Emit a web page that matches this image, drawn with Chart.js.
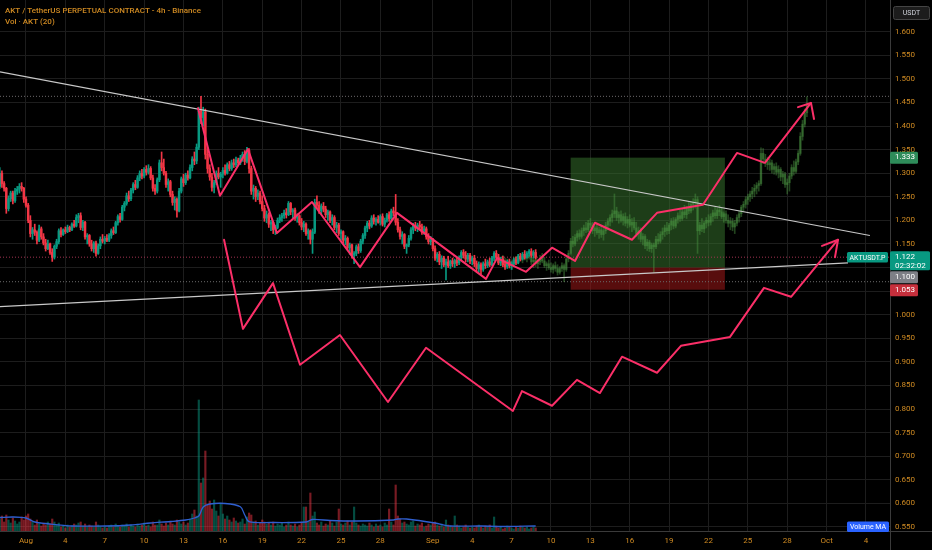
<!DOCTYPE html>
<html><head><meta charset="utf-8">
<script src="https://cdn.jsdelivr.net/npm/chart.js@4.4.1/dist/chart.umd.min.js"></script>
<style>html,body{margin:0;padding:0;background:#000;overflow:hidden}canvas{display:block}</style>
</head><body>
<canvas id="c" width="932" height="550"></canvas>
<script>
// ---------- data ----------
const chartTitle = 'AKT / TetherUS PERPETUAL CONTRACT - 4h - Binance';
const volTitle = 'Vol \u00b7 AKT (20)';
const symbolName = 'AKTUSDT.P';
const currency = 'USDT';
const countdown = '02:32:02';

// x axis: days counted from Aug 1 (day 0)
const tickDays = [0,3,6,9,12,15,18,21,24,27,31,34,37,40,43,46,49,52,55,58,61,64];
const tickLabels = ['Aug','4','7','10','13','16','19','22','25','28','Sep','4','7','10','13','16','19','22','25','28','Oct','4'];
const priceTicks = [0.55,0.60,0.65,0.70,0.75,0.80,0.85,0.90,0.95,1.00,1.05,1.10,1.15,1.20,1.25,1.30,1.35,1.40,1.45,1.50,1.55,1.60];

const candleStartDay = -2;   // Jul 30, 00:00
const candleHours = 4;

// 4h candles [open, high, low, close]
const candles = [
[1.272,1.312,1.268,1.300],[1.300,1.305,1.270,1.278],[1.278,1.282,1.262,1.268],[1.268,1.270,1.215,1.225],[1.225,1.252,1.220,1.246],[1.246,1.262,1.240,1.258],
[1.258,1.262,1.235,1.242],[1.242,1.268,1.238,1.262],[1.262,1.272,1.255,1.266],[1.266,1.278,1.258,1.272],[1.272,1.280,1.262,1.268],[1.268,1.270,1.238,1.245],
[1.245,1.250,1.228,1.232],[1.232,1.236,1.195,1.200],[1.200,1.210,1.165,1.172],[1.172,1.185,1.160,1.180],[1.180,1.192,1.168,1.175],[1.175,1.178,1.150,1.158],
[1.158,1.190,1.155,1.182],[1.182,1.186,1.160,1.165],[1.165,1.172,1.148,1.152],[1.152,1.160,1.135,1.140],[1.140,1.158,1.138,1.150],[1.150,1.152,1.128,1.132],
[1.132,1.140,1.113,1.122],[1.122,1.148,1.118,1.145],[1.145,1.160,1.140,1.155],[1.155,1.182,1.150,1.178],[1.178,1.185,1.165,1.170],[1.170,1.182,1.168,1.180],
[1.180,1.186,1.172,1.176],[1.176,1.190,1.174,1.185],[1.185,1.188,1.176,1.180],[1.180,1.195,1.178,1.192],[1.192,1.200,1.185,1.188],[1.188,1.212,1.186,1.206],
[1.206,1.215,1.195,1.210],[1.210,1.216,1.180,1.185],[1.185,1.200,1.178,1.196],[1.196,1.198,1.160,1.165],[1.165,1.172,1.150,1.168],[1.168,1.170,1.145,1.150],
[1.150,1.158,1.135,1.140],[1.140,1.155,1.132,1.152],[1.152,1.156,1.124,1.130],[1.130,1.150,1.128,1.146],[1.146,1.165,1.140,1.160],[1.160,1.170,1.152,1.156],
[1.156,1.166,1.150,1.162],[1.162,1.170,1.155,1.158],[1.158,1.172,1.155,1.168],[1.168,1.182,1.162,1.178],[1.178,1.186,1.170,1.174],[1.174,1.198,1.172,1.195],
[1.195,1.212,1.190,1.208],[1.208,1.215,1.196,1.202],[1.202,1.232,1.200,1.228],[1.228,1.240,1.220,1.236],[1.236,1.258,1.232,1.252],[1.252,1.262,1.240,1.246],
[1.246,1.268,1.242,1.264],[1.264,1.280,1.258,1.276],[1.276,1.285,1.265,1.270],[1.270,1.295,1.268,1.290],[1.290,1.305,1.284,1.300],[1.300,1.308,1.288,1.294],
[1.294,1.312,1.290,1.308],[1.308,1.316,1.296,1.302],[1.302,1.318,1.298,1.310],[1.310,1.314,1.286,1.290],[1.290,1.296,1.262,1.268],[1.268,1.276,1.255,1.262],
[1.262,1.290,1.258,1.286],[1.286,1.328,1.282,1.322],[1.322,1.345,1.305,1.312],[1.312,1.330,1.296,1.300],[1.300,1.304,1.270,1.276],[1.276,1.288,1.262,1.282],
[1.282,1.285,1.250,1.255],[1.255,1.262,1.232,1.238],[1.238,1.250,1.222,1.245],[1.245,1.248,1.207,1.220],[1.220,1.268,1.218,1.262],[1.262,1.292,1.258,1.288],
[1.288,1.298,1.272,1.280],[1.280,1.300,1.276,1.296],[1.296,1.305,1.285,1.290],[1.290,1.318,1.288,1.312],[1.312,1.335,1.305,1.330],[1.330,1.345,1.318,1.326],
[1.326,1.362,1.320,1.355],[1.355,1.440,1.350,1.432],[1.432,1.463,1.405,1.418],[1.418,1.440,1.400,1.430],[1.430,1.436,1.330,1.340],[1.340,1.352,1.300,1.310],
[1.310,1.318,1.285,1.292],[1.292,1.300,1.262,1.270],[1.270,1.285,1.258,1.280],[1.280,1.305,1.276,1.300],[1.300,1.312,1.288,1.292],[1.292,1.302,1.270,1.298],
[1.298,1.312,1.290,1.306],[1.306,1.318,1.296,1.300],[1.300,1.322,1.298,1.318],[1.318,1.325,1.305,1.310],[1.310,1.328,1.306,1.322],[1.322,1.330,1.312,1.318],
[1.318,1.334,1.314,1.328],[1.328,1.332,1.318,1.322],[1.322,1.338,1.318,1.332],[1.332,1.345,1.325,1.340],[1.340,1.348,1.318,1.325],[1.325,1.355,1.322,1.348],
[1.348,1.352,1.300,1.310],[1.310,1.315,1.255,1.262],[1.262,1.275,1.245,1.268],[1.268,1.272,1.240,1.250],[1.250,1.265,1.244,1.258],[1.258,1.262,1.235,1.240],
[1.240,1.252,1.220,1.225],[1.225,1.232,1.198,1.205],[1.205,1.220,1.195,1.212],[1.212,1.216,1.185,1.192],[1.192,1.200,1.178,1.196],[1.196,1.198,1.172,1.180],
[1.180,1.190,1.170,1.185],[1.185,1.205,1.182,1.200],[1.200,1.212,1.195,1.206],[1.206,1.215,1.198,1.210],[1.210,1.222,1.204,1.216],[1.216,1.225,1.205,1.212],
[1.212,1.240,1.210,1.236],[1.236,1.238,1.212,1.218],[1.218,1.225,1.205,1.222],[1.222,1.226,1.200,1.205],[1.205,1.214,1.196,1.210],[1.210,1.212,1.190,1.195],
[1.195,1.204,1.180,1.186],[1.186,1.198,1.176,1.192],[1.192,1.195,1.168,1.172],[1.172,1.182,1.160,1.178],[1.178,1.180,1.150,1.160],[1.160,1.182,1.130,1.175],
[1.175,1.245,1.172,1.238],[1.238,1.252,1.225,1.232],[1.232,1.240,1.215,1.220],[1.220,1.235,1.214,1.230],[1.230,1.238,1.218,1.224],[1.224,1.230,1.206,1.212],
[1.212,1.222,1.200,1.218],[1.218,1.220,1.195,1.200],[1.200,1.212,1.190,1.206],[1.206,1.210,1.180,1.185],[1.185,1.196,1.174,1.190],[1.190,1.194,1.168,1.172],
[1.172,1.180,1.158,1.176],[1.176,1.178,1.152,1.158],[1.158,1.168,1.148,1.162],[1.162,1.165,1.138,1.142],[1.142,1.152,1.128,1.148],[1.148,1.150,1.120,1.126],
[1.126,1.134,1.108,1.130],[1.130,1.148,1.125,1.144],[1.144,1.150,1.130,1.136],[1.136,1.160,1.132,1.156],[1.156,1.172,1.150,1.168],[1.168,1.188,1.162,1.184],
[1.184,1.198,1.176,1.194],[1.194,1.200,1.182,1.188],[1.188,1.210,1.185,1.205],[1.205,1.212,1.192,1.198],[1.198,1.206,1.190,1.202],[1.202,1.210,1.194,1.196],
[1.196,1.212,1.190,1.208],[1.208,1.214,1.188,1.192],[1.192,1.205,1.186,1.200],[1.200,1.215,1.196,1.212],[1.212,1.218,1.198,1.204],[1.204,1.224,1.200,1.220],
[1.220,1.228,1.210,1.216],[1.216,1.255,1.190,1.196],[1.196,1.204,1.175,1.180],[1.180,1.186,1.160,1.166],[1.166,1.176,1.150,1.170],[1.170,1.172,1.140,1.145],
[1.145,1.150,1.130,1.148],[1.148,1.168,1.144,1.162],[1.162,1.185,1.158,1.180],[1.180,1.194,1.172,1.188],[1.188,1.196,1.178,1.184],[1.184,1.194,1.176,1.190],
[1.190,1.198,1.180,1.186],[1.186,1.192,1.170,1.175],[1.175,1.188,1.170,1.182],[1.182,1.186,1.160,1.165],[1.165,1.172,1.150,1.155],[1.155,1.166,1.148,1.160],
[1.160,1.162,1.135,1.140],[1.140,1.146,1.115,1.120],[1.120,1.132,1.112,1.128],[1.128,1.134,1.106,1.112],[1.112,1.125,1.098,1.120],[1.120,1.124,1.102,1.106],
[1.106,1.118,1.074,1.112],[1.112,1.124,1.100,1.104],[1.104,1.116,1.098,1.114],[1.114,1.120,1.102,1.108],[1.108,1.118,1.100,1.115],[1.115,1.122,1.104,1.110],
[1.110,1.125,1.106,1.122],[1.122,1.136,1.116,1.132],[1.132,1.138,1.120,1.126],[1.126,1.134,1.112,1.118],[1.118,1.130,1.112,1.126],[1.126,1.130,1.108,1.114],
[1.114,1.124,1.106,1.120],[1.120,1.126,1.102,1.108],[1.108,1.114,1.092,1.098],[1.098,1.112,1.090,1.106],[1.106,1.110,1.086,1.096],[1.096,1.112,1.092,1.108],
[1.108,1.118,1.098,1.104],[1.104,1.116,1.100,1.112],[1.112,1.120,1.102,1.106],[1.106,1.124,1.104,1.120],[1.120,1.134,1.114,1.130],[1.130,1.136,1.118,1.122],
[1.122,1.128,1.106,1.110],[1.110,1.122,1.104,1.118],[1.118,1.124,1.102,1.106],[1.106,1.114,1.096,1.102],[1.102,1.116,1.098,1.112],[1.112,1.118,1.100,1.104],
[1.104,1.112,1.096,1.108],[1.108,1.120,1.102,1.116],[1.116,1.122,1.106,1.110],[1.110,1.128,1.108,1.124],[1.124,1.130,1.114,1.118],[1.118,1.132,1.116,1.128],
[1.128,1.136,1.118,1.122],[1.122,1.134,1.120,1.130],[1.130,1.138,1.124,1.134],[1.134,1.140,1.122,1.126],[1.126,1.136,1.120,1.132],[1.132,1.138,1.118,1.122]
];

// faded projected bars (bar pattern), starting at candle index 228
const ghostStartIndex = 228;
const ghostCandles = [
[1.120,1.128,1.108,1.112],[1.112,1.122,1.104,1.118],[1.118,1.126,1.110,1.114],[1.114,1.120,1.100,1.106],[1.106,1.118,1.102,1.112],[1.112,1.116,1.098,1.104],
[1.104,1.114,1.096,1.110],[1.110,1.122,1.106,1.118],[1.118,1.124,1.108,1.112],[1.112,1.126,1.108,1.122],[1.122,1.130,1.114,1.118],[1.118,1.128,1.110,1.124],
[1.124,1.132,1.116,1.120],[1.120,1.130,1.112,1.126],[1.126,1.134,1.118,1.122],[1.122,1.128,1.106,1.112],[1.112,1.120,1.100,1.116],[1.116,1.122,1.102,1.108],
[1.108,1.118,1.098,1.112],[1.112,1.126,1.106,1.120],[1.120,1.130,1.110,1.114],[1.114,1.122,1.100,1.104],[1.104,1.112,1.094,1.108],[1.108,1.116,1.096,1.100],
[1.100,1.110,1.090,1.096],[1.096,1.108,1.088,1.104],[1.104,1.112,1.092,1.098],[1.098,1.106,1.084,1.090],[1.090,1.102,1.086,1.098],[1.098,1.110,1.092,1.104],
[1.104,1.108,1.070,1.096],[1.096,1.124,1.092,1.118],[1.118,1.136,1.112,1.130],[1.130,1.162,1.126,1.156],[1.156,1.166,1.144,1.150],[1.150,1.170,1.146,1.164],
[1.164,1.178,1.156,1.172],[1.172,1.180,1.160,1.166],[1.166,1.184,1.162,1.178],[1.178,1.190,1.168,1.184],[1.184,1.196,1.174,1.180],[1.180,1.200,1.176,1.194],
[1.194,1.204,1.184,1.190],[1.190,1.196,1.172,1.178],[1.178,1.188,1.166,1.184],[1.184,1.192,1.170,1.174],[1.174,1.186,1.162,1.180],[1.180,1.188,1.164,1.170],
[1.170,1.184,1.158,1.178],[1.178,1.196,1.172,1.190],[1.190,1.204,1.180,1.198],[1.198,1.212,1.188,1.206],[1.206,1.222,1.196,1.214],[1.214,1.256,1.206,1.220],
[1.220,1.228,1.200,1.206],[1.206,1.218,1.194,1.212],[1.212,1.220,1.196,1.200],[1.200,1.214,1.190,1.208],[1.208,1.216,1.188,1.194],[1.194,1.208,1.184,1.202],
[1.202,1.212,1.186,1.190],[1.190,1.204,1.176,1.196],[1.196,1.206,1.180,1.184],[1.184,1.196,1.166,1.172],[1.172,1.186,1.160,1.178],[1.178,1.184,1.154,1.160],
[1.160,1.172,1.148,1.166],[1.166,1.170,1.140,1.146],[1.146,1.160,1.136,1.154],[1.154,1.158,1.134,1.140],[1.140,1.152,1.132,1.148],[1.148,1.152,1.090,1.144],
[1.144,1.166,1.140,1.160],[1.160,1.172,1.150,1.156],[1.156,1.176,1.152,1.170],[1.170,1.184,1.160,1.176],[1.176,1.190,1.166,1.184],[1.184,1.196,1.170,1.178],
[1.178,1.194,1.172,1.190],[1.190,1.204,1.180,1.198],[1.198,1.206,1.182,1.188],[1.188,1.206,1.184,1.202],[1.202,1.216,1.194,1.210],[1.210,1.222,1.198,1.204],
[1.204,1.224,1.200,1.218],[1.218,1.232,1.206,1.212],[1.212,1.230,1.204,1.226],[1.226,1.238,1.214,1.220],[1.220,1.240,1.216,1.234],[1.234,1.246,1.222,1.238],
[1.238,1.256,1.226,1.244],[1.244,1.250,1.130,1.178],[1.178,1.196,1.170,1.190],[1.190,1.204,1.176,1.182],[1.182,1.198,1.174,1.194],[1.194,1.206,1.184,1.200],
[1.200,1.212,1.188,1.196],[1.196,1.214,1.190,1.208],[1.208,1.222,1.198,1.216],[1.216,1.228,1.204,1.210],[1.210,1.226,1.204,1.222],[1.222,1.232,1.210,1.218],
[1.218,1.226,1.204,1.208],[1.208,1.218,1.196,1.214],[1.214,1.220,1.194,1.200],[1.200,1.212,1.186,1.194],[1.194,1.206,1.180,1.198],[1.198,1.204,1.178,1.186],
[1.186,1.200,1.172,1.194],[1.194,1.212,1.188,1.206],[1.206,1.220,1.196,1.214],[1.214,1.232,1.208,1.228],[1.228,1.240,1.218,1.234],[1.234,1.250,1.226,1.244],
[1.244,1.256,1.234,1.250],[1.250,1.262,1.240,1.256],[1.256,1.270,1.246,1.262],[1.262,1.276,1.250,1.268],[1.268,1.280,1.256,1.274],[1.274,1.284,1.262,1.278],
[1.278,1.354,1.274,1.342],[1.342,1.352,1.320,1.330],[1.330,1.340,1.314,1.326],[1.326,1.334,1.308,1.318],[1.318,1.330,1.306,1.322],[1.322,1.328,1.300,1.308],
[1.308,1.320,1.298,1.314],[1.314,1.322,1.296,1.302],[1.302,1.316,1.290,1.308],[1.308,1.312,1.284,1.292],[1.292,1.304,1.278,1.298],[1.298,1.302,1.270,1.276],
[1.276,1.288,1.256,1.280],[1.280,1.300,1.262,1.294],[1.294,1.318,1.288,1.312],[1.312,1.326,1.296,1.304],[1.304,1.330,1.300,1.324],[1.324,1.348,1.318,1.342],
[1.342,1.386,1.338,1.378],[1.378,1.412,1.370,1.404],[1.404,1.436,1.398,1.428],[1.428,1.462,1.420,1.444]
];

// volume per candle, thousands of AKT
const volumes = [
120,150,90,160,110,80,130,100,70,90,140,110,
150,170,120,90,60,110,70,50,80,60,90,70,
120,90,60,80,40,50,30,60,40,50,70,60,
80,90,50,70,40,60,50,40,90,60,40,30,
40,30,50,60,40,70,50,40,60,50,70,40,
60,50,40,70,50,60,80,50,60,40,90,60,
60,110,70,50,80,60,90,70,60,110,90,70,
90,60,80,120,170,210,150,1310,480,530,800,260,
300,220,310,200,150,280,170,120,150,110,90,130,
100,80,90,120,70,140,180,160,90,100,60,80,
110,90,70,80,60,90,50,70,60,80,40,60,
90,60,50,70,40,60,80,240,240,100,380,150,
190,80,60,90,50,70,60,100,80,50,90,220,
70,60,80,100,60,90,240,80,60,50,70,60,
50,80,60,40,70,50,60,40,80,60,220,90,
60,460,150,120,80,90,70,60,90,100,50,70,
60,80,40,50,70,60,80,90,60,50,70,40,
110,60,50,40,150,60,50,30,40,60,40,30,
40,30,50,60,40,30,50,40,60,30,140,50,
30,40,20,30,50,40,30,20,40,30,50,40,
30,40,20,30,40,30
];
// Volume MA (20): candle index -> value
const volMaIndex = [0,6,12,16,21,33,49,60,69,78,85,89,91,93,96,103,110,112,114,124,140,143,151,163,180,182,186,199,206,220,229,245];
const volMaValue = [135,140,130,90,75,50,50,60,80,95,110,130,150,240,270,275,243,160,93,85,90,115,105,100,110,120,120,80,50,50,45,50];

// drawings (day, price)
const upperTrendDays = [-1.98, 64.30];
const upperTrendPrices = [1.515, 1.168];
const lowerTrendDays = [-1.98, 62.63];
const lowerTrendPrices = [1.017, 1.110];

const zigUpperDays = [13.10,14.78,16.91,19.12,21.79,25.45,28.27,35.05,35.89,38.10,40.08,41.83,43.35,46.17,48.08,51.58,54.17,56.30,59.81];
const zigUpperPrices = [1.438,1.252,1.351,1.173,1.239,1.101,1.216,1.076,1.120,1.091,1.142,1.114,1.195,1.159,1.216,1.233,1.343,1.322,1.449];
const arrowUpperDays = [58.82,59.81,60.04];
const arrowUpperPrices = [1.440,1.449,1.415];

const zigLowerDays = [15.09,16.53,18.82,20.88,23.92,27.58,30.48,37.10,37.79,40.08,41.98,43.73,45.41,48.08,49.90,53.64,56.23,58.29,61.87];
const zigLowerPrices = [1.159,0.970,1.067,0.894,0.957,0.815,0.930,0.796,0.838,0.807,0.862,0.834,0.911,0.877,0.934,0.953,1.057,1.038,1.159];
const arrowLowerDays = [60.65,61.87,61.64];
const arrowLowerPrices = [1.146,1.159,1.122];

// long position tool
const posStartDay = 41.5;
const posEndDay = 53.25;
const entryPrice = 1.100;
const targetPrice = 1.333;
const stopPrice = 1.053;

const lastPrice = 1.122;
const rangeHigh = 1.463;
const rangeLow = 1.070;

// ---------- styles ----------
const ORANGE = '#cf8a22';
const GRID = '#1d1d1d';
const UP = '#089981';
const DOWN = '#f23645';
const GHOST = 'rgba(76,150,66,0.45)';
const PINK = '#fb2f68';
const TREND = '#c9c9c9';
const FONT = 'Roboto';
const xMin = -1.98, xMax = 65.83;
const yMin = 0.5415, yMax = 1.6672;
const volAxisMax = 5310;

const dayOf = i => candleStartDay + i * candleHours / 24;
const pts = (ds, ps) => ds.map((d, k) => ({x: d, y: ps[k]}));

const candleCols = candles.map(c => c[3] >= c[0] ? UP : DOWN);
const volCols = candles.map(c => c[3] >= c[0] ? 'rgba(8,153,129,0.5)' : 'rgba(242,54,69,0.5)');

const datasets = [
  // horizontal dotted levels
  {type:'line', data: pts([xMin,xMax],[rangeHigh,rangeHigh]), borderColor:'#6e6a6c', borderWidth:1, borderDash:[1,2], pointRadius:0, order:20},
  {type:'line', data: pts([xMin,xMax],[rangeLow,rangeLow]), borderColor:'#6b6b6b', borderWidth:1, borderDash:[1,2], pointRadius:0, order:20},
  {type:'line', data: pts([xMin,xMax],[lastPrice,lastPrice]), borderColor:'#a23352', borderWidth:1, borderDash:[1,2], pointRadius:0, order:20},
  // volume
  {type:'bar', yAxisID:'yv', data: volumes.map((v,i)=>({x:dayOf(i), y:v})), backgroundColor: volCols, barThickness:1.5, grouped:false, borderWidth:0, order:15},
  {type:'line', yAxisID:'yv', data: volMaIndex.map((i,k)=>({x:dayOf(i), y:volMaValue[k]})), borderColor:'#2f5fd0', borderWidth:1.3, pointRadius:0, tension:0.3, order:14},
  // ghost bars
  {type:'bar', data: ghostCandles.map((c,k)=>({x:dayOf(ghostStartIndex+k), y:[c[2],c[1]]})), backgroundColor: GHOST, barThickness:1, grouped:false, borderWidth:0, order:12},
  {type:'bar', data: ghostCandles.map((c,k)=>({x:dayOf(ghostStartIndex+k), y:[Math.min(c[0],c[3]),Math.max(c[0],c[3])]})), backgroundColor: GHOST, barThickness:1.8, minBarLength:1, grouped:false, borderWidth:0, order:11},
  // candles
  {type:'bar', data: candles.map((c,i)=>({x:dayOf(i), y:[c[2],c[1]]})), backgroundColor: candleCols, barThickness:1, grouped:false, borderWidth:0, order:10},
  {type:'bar', data: candles.map((c,i)=>({x:dayOf(i), y:[Math.min(c[0],c[3]),Math.max(c[0],c[3])]})), backgroundColor: candleCols, barThickness:1.8, minBarLength:1, grouped:false, borderWidth:0, order:9},
  // trend lines
  {type:'line', data: pts(upperTrendDays, upperTrendPrices), borderColor:TREND, borderWidth:1.2, pointRadius:0, order:5},
  {type:'line', data: pts(lowerTrendDays, lowerTrendPrices), borderColor:TREND, borderWidth:1.2, pointRadius:0, order:5},
  // zigzag paths
  {type:'line', data: pts(zigUpperDays, zigUpperPrices), borderColor:PINK, borderWidth:2, pointRadius:0, tension:0, borderJoinStyle:'round', borderCapStyle:'round', order:2},
  {type:'line', data: pts(arrowUpperDays, arrowUpperPrices), borderColor:PINK, borderWidth:2, pointRadius:0, tension:0, borderJoinStyle:'round', borderCapStyle:'round', order:2},
  {type:'line', data: pts(zigLowerDays, zigLowerPrices), borderColor:PINK, borderWidth:2, pointRadius:0, tension:0, borderJoinStyle:'round', borderCapStyle:'round', order:2},
  {type:'line', data: pts(arrowLowerDays, arrowLowerPrices), borderColor:PINK, borderWidth:2, pointRadius:0, tension:0, borderJoinStyle:'round', borderCapStyle:'round', order:2}
];

function labelBox(ctx, x, y, w, h, fill, lines, color, size, align) {
  ctx.fillStyle = fill;
  ctx.beginPath();
  ctx.roundRect ? ctx.roundRect(x, y, w, h, 1.5) : ctx.rect(x, y, w, h);
  ctx.fill();
  ctx.fillStyle = color;
  ctx.font = (size || 8) + 'px ' + FONT;
  ctx.textBaseline = 'middle';
  ctx.textAlign = align || 'left';
  const tx = align === 'center' ? x + w / 2 : x + 5;
  lines.forEach((t, k) => ctx.fillText(t, tx, y + 5.8 + k * 8.6));
}

const overlay = {
  id: 'overlay',
  beforeDraw(chart) {
    const ctx = chart.ctx;
    ctx.save(); ctx.fillStyle = '#000'; ctx.fillRect(0, 0, chart.width, chart.height); ctx.restore();
  },
  beforeDatasetsDraw(chart) {
    const {ctx, chartArea: a, scales: {x, y}} = chart;
    ctx.save();
    ctx.beginPath(); ctx.rect(a.left, a.top, a.right - a.left, a.bottom - a.top); ctx.clip();
    const x0 = x.getPixelForValue(posStartDay), x1 = x.getPixelForValue(posEndDay);
    const yT = y.getPixelForValue(targetPrice), yE = y.getPixelForValue(entryPrice), yS = y.getPixelForValue(stopPrice);
    ctx.fillStyle = 'rgba(56,116,46,0.52)';
    ctx.fillRect(x0, yT, x1 - x0, yE - yT);
    ctx.fillStyle = 'rgba(160,24,24,0.55)';
    ctx.fillRect(x0, yE, x1 - x0, yS - yE);
    ctx.restore();
  },
  afterDraw(chart) {
    const {ctx, chartArea: a, scales: {y}} = chart;
    ctx.save();
    // axis borders
    ctx.strokeStyle = '#3a3a3a'; ctx.lineWidth = 1;
    ctx.beginPath();
    ctx.moveTo(Math.round(a.right) + 0.5, 0); ctx.lineTo(Math.round(a.right) + 0.5, chart.height);
    ctx.moveTo(0, Math.round(a.bottom) + 0.5); ctx.lineTo(chart.width, Math.round(a.bottom) + 0.5);
    ctx.stroke();
    // titles
    ctx.fillStyle = ORANGE; ctx.textAlign = 'left'; ctx.textBaseline = 'alphabetic';
    ctx.font = '500 8px ' + FONT;
    ctx.fillText(chartTitle, 5, 12.5);
    ctx.fillText(volTitle, 5, 24);
    // currency box
    ctx.fillStyle = '#1c1c1c'; ctx.strokeStyle = '#444';
    ctx.beginPath(); ctx.roundRect(893.5, 6.5, 36, 13, 2); ctx.fill(); ctx.stroke();
    ctx.fillStyle = '#d1d4dc'; ctx.font = '7px ' + FONT; ctx.textAlign = 'center'; ctx.textBaseline = 'middle';
    ctx.fillText(currency, 911.5, 13.2);
    // price labels
    const ax = a.right;
    const yTg = y.getPixelForValue(targetPrice);
    labelBox(ctx, ax, yTg - 6, 28, 12, '#2e8c5a', [targetPrice.toFixed(3)], '#fff');
    const yLp = y.getPixelForValue(lastPrice);
    const lpTop = yLp - 5.8;
    labelBox(ctx, ax, lpTop, 40, 19, '#089981', [lastPrice.toFixed(3), countdown], '#fff');
    const yEn = y.getPixelForValue(entryPrice);
    const enTop = Math.max(yEn - 6, lpTop + 20);
    labelBox(ctx, ax, enTop, 28, 12, '#7d7f86', [entryPrice.toFixed(3)], '#fff');
    const ySt = y.getPixelForValue(stopPrice);
    labelBox(ctx, ax, Math.max(ySt - 6, enTop + 13), 28, 12, '#c62f3c', [stopPrice.toFixed(3)], '#fff');
    // symbol and indicator tags
    labelBox(ctx, ax - 43, yLp - 5.2, 41, 10.5, '#089981', [symbolName], '#fff', 7, 'center');
    labelBox(ctx, ax - 43, a.bottom - 9.5, 42, 10.5, '#2962ff', ['Volume MA'], '#fff', 7, 'center');
    ctx.restore();
  }
};

new Chart(document.getElementById('c'), {
  type: 'line',
  data: {datasets},
  options: {
    responsive: false, animation: false, events: [], devicePixelRatio: 1,
    layout: {padding: 0, autoPadding: false},
    plugins: {legend: {display: false}, tooltip: {enabled: false}, title: {display: false}},
    scales: {
      x: {
        type: 'linear', min: xMin, max: xMax, offset: false,
        afterBuildTicks: s => { s.ticks = tickDays.map(v => ({value: v})); },
        afterFit: s => { s.height = 19; s.paddingLeft = 0; s.paddingRight = 0; s.paddingTop = 0; s.paddingBottom = 0; },
        ticks: {autoSkip: false, maxRotation: 0, color: ORANGE, font: {family: FONT, size: 8}, padding: 5,
                callback: (v, i) => tickLabels[i]},
        grid: {color: GRID, drawTicks: false, offset: false},
        border: {display: false}
      },
      y: {
        type: 'linear', position: 'right', min: yMin, max: yMax,
        afterBuildTicks: s => { s.ticks = priceTicks.map(v => ({value: v})); },
        afterFit: s => { s.width = 42; s.paddingTop = 0; s.paddingBottom = 0; s.paddingLeft = 0; s.paddingRight = 0; },
        ticks: {color: ORANGE, font: {family: FONT, size: 8}, padding: 5, callback: v => v.toFixed(3)},
        grid: {color: GRID, drawTicks: false},
        border: {display: false}
      },
      yv: {type: 'linear', display: false, min: 0, max: volAxisMax}
    }
  },
  plugins: [overlay]
});
</script>
</body></html>
